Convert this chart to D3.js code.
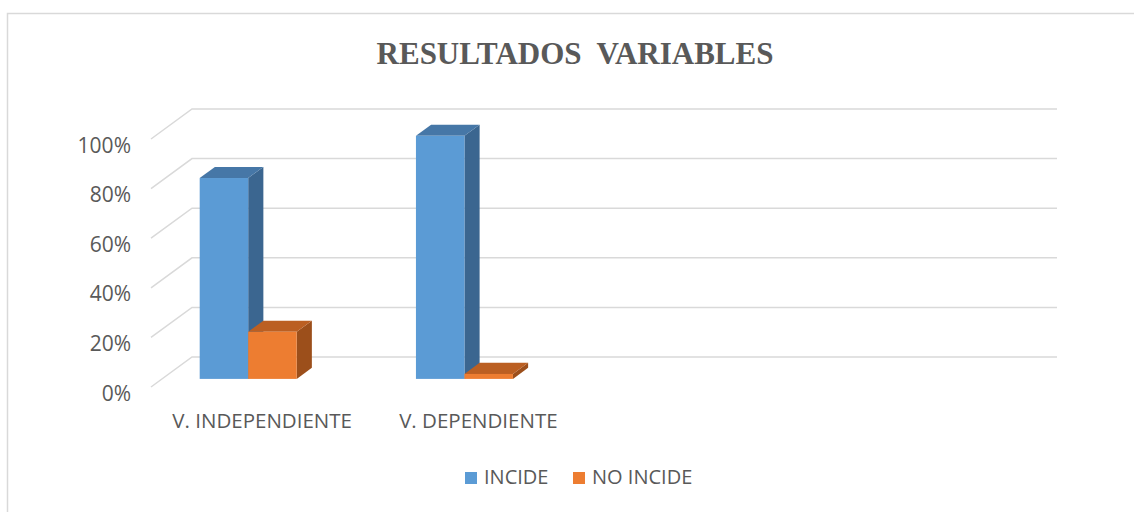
<!DOCTYPE html>
<html>
  <head>
    <meta charset="utf-8" />
    <title>Resultados Variables</title>
    <script src="https://d3js.org/d3.v7.min.js"></script>
    <style>
      body {
        margin: 0;
        background: #fff;
      }
      text {
        fill: #595959;
      }
    </style>
  </head>
  <body>
    <div id="chart"></div>
    <script>
      // data
      const categories = ["V. INDEPENDIENTE", "V. DEPENDIENTE"];
      const series = ["INCIDE", "NO INCIDE"];
      const incide = [0.81, 0.98];
      const noIncide = [0.19, 0.02];
      const yTicks = [0, 0.2, 0.4, 0.6, 0.8, 1];
      const slots = 4; // the category axis keeps room for 4 slots

      const W = 1134,
        H = 512;

      const svg = d3
        .select("#chart")
        .append("svg")
        .attr("width", W)
        .attr("height", H);

      // chart frame
      svg
        .append("rect")
        .attr("x", 7.5)
        .attr("y", 13.5)
        .attr("width", W + 20)
        .attr("height", H + 20)
        .attr("fill", "none")
        .attr("stroke", "#d9d9d9")
        .attr("stroke-width", 1.5);

      // Title
      svg
        .append("text")
        .attr("x", 575)
        .attr("y", 64)
        .attr("text-anchor", "middle")
        .style("font-family", "'Liberation Serif', 'Times New Roman', serif")
        .style("font-weight", "bold")
        .style("font-size", "31px")
        .style("white-space", "pre")
        .text("RESULTADOS  VARIABLES");

      // front plane scales, plus a depth vector towards the back wall
      const x = d3.scaleBand().domain(d3.range(slots)).range([151, 1016]);
      const y = d3.scaleLinear().domain([0, 1]).range([387, 139]);
      const depth = { dx: 41, dy: -30 };
      const proj = (xf, v, d) => [xf + depth.dx * d, y(v) + depth.dy * d];

      // gridlines: left wall diagonal + back wall line
      const grid = svg.append("g");
      yTicks.forEach((t) => {
        const a = proj(151, t, 0),
          b = proj(151, t, 1),
          c = proj(1016, t, 1);
        grid
          .append("polyline")
          .attr("points", [a, b, c].map((p) => p.join(",")).join(" "))
          .attr("fill", "none")
          .attr("stroke", "#d9d9d9")
          .attr("stroke-width", 1.5);
      });

      // Y axis labels
      svg
        .append("g")
        .selectAll("text")
        .data(yTicks)
        .join("text")
        .attr("x", 131)
        .attr("y", (d) => y(d) + 8)
        .attr("text-anchor", "end")
        .attr("dominant-baseline", "middle")
        .style("font-family", "'Open Sans', sans-serif")
        .style("font-size", "21px")
        .text(d3.format(".0%"));

      // X axis labels
      svg
        .append("g")
        .selectAll("text")
        .data(categories)
        .join("text")
        .attr("x", (d, i) => x(i) + x.bandwidth() / 2 + 3)
        .attr("y", 428)
        .attr("text-anchor", "middle")
        .style("font-family", "'Open Sans', sans-serif")
        .style("font-size", "20.5px")
        .text((d) => d);

      // 3D bars
      const colors = {
        INCIDE: { front: "#5b9bd5", top: "#4677a7", side: "#3b6690" },
        "NO INCIDE": { front: "#ed7d31", top: "#bb5f22", side: "#9c4f1b" },
      };
      const d0 = 0.27,
        d1 = 0.64;
      const bars = [];
      categories.forEach((c, i) => {
        bars.push({ cat: i, s: "INCIDE", v: incide[i] });
        bars.push({ cat: i, s: "NO INCIDE", v: noIncide[i] });
      });

      const barG = svg.append("g");
      bars.forEach((b) => {
        const mid = x(b.cat) + x.bandwidth() / 2 - 22;
        const xs = d3
          .scaleBand()
          .domain(series)
          .range([mid - 48.5, mid + 48.5]);
        const x0 = xs(b.s),
          x1 = x0 + xs.bandwidth();
        const col = colors[b.s];
        const pts = (arr) => arr.map((p) => p.join(",")).join(" ");
        const g = barG.append("g");
        // side face
        g.append("polygon")
          .attr(
            "points",
            pts([proj(x1, 0, d0), proj(x1, 0, d1), proj(x1, b.v, d1), proj(x1, b.v, d0)])
          )
          .attr("fill", col.side);
        // top face
        g.append("polygon")
          .attr(
            "points",
            pts([proj(x0, b.v, d0), proj(x1, b.v, d0), proj(x1, b.v, d1), proj(x0, b.v, d1)])
          )
          .attr("fill", col.top);
        // front face
        const p0 = proj(x0, b.v, d0),
          p1 = proj(x1, 0, d0);
        g.append("rect")
          .attr("x", p0[0])
          .attr("y", p0[1])
          .attr("width", p1[0] - p0[0])
          .attr("height", p1[1] - p0[1])
          .attr("fill", col.front);
      });

      // Legend
      const legend = svg.append("g");
      const legendX = [465, 573];
      series.forEach((s, i) => {
        legend
          .append("rect")
          .attr("x", legendX[i])
          .attr("y", 472)
          .attr("width", 12)
          .attr("height", 12)
          .attr("fill", colors[s].front);
        legend
          .append("text")
          .attr("x", legendX[i] + 19)
          .attr("y", 484)
          .style("font-family", "'Open Sans', sans-serif")
          .style("font-size", "20px")
          .text(s);
      });
    </script>
  </body>
</html>
